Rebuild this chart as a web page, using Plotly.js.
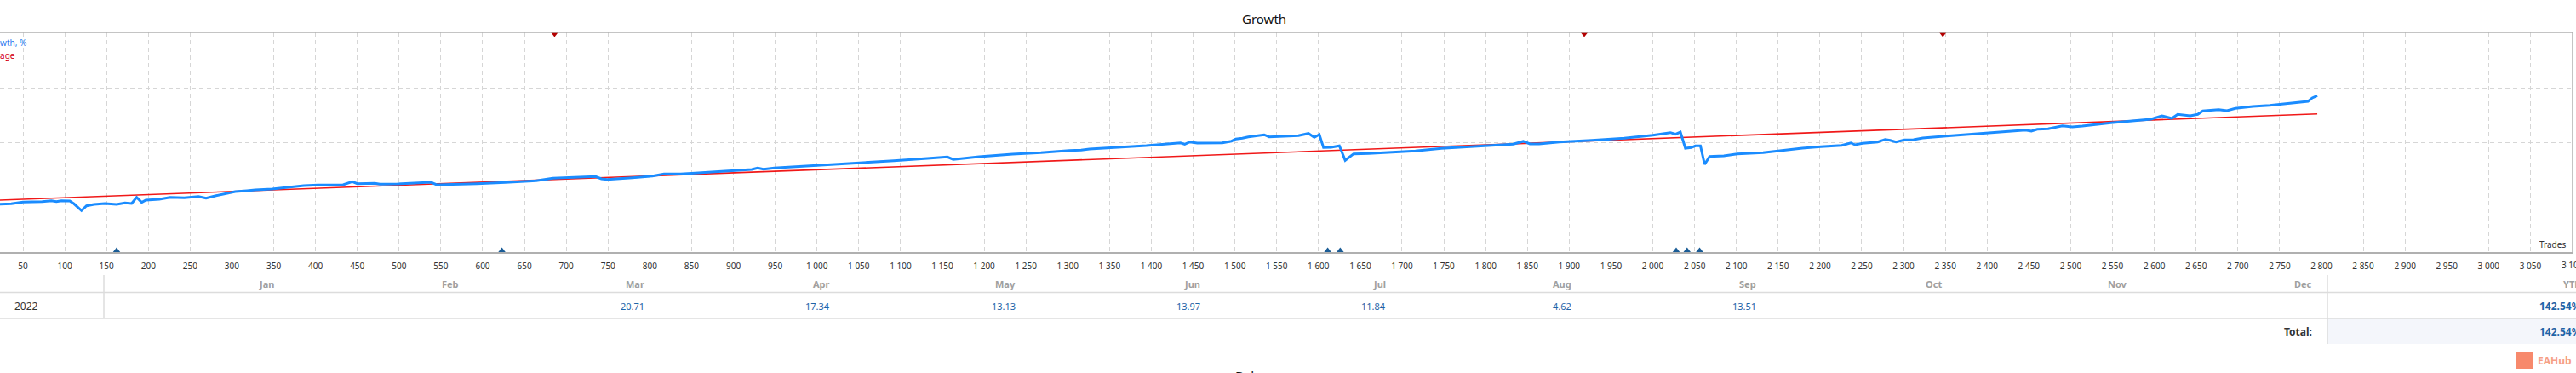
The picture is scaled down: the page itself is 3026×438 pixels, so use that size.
<!DOCTYPE html>
<html>
<head>
<meta charset="utf-8">
<script src="https://cdn.plot.ly/plotly-3.0.1.min.js"></script>
<style>
  html, body { margin: 0; padding: 0; background: #fff; }
  #chart { width: 3026px; height: 438px; }
</style>
</head>
<body>
<div id="chart"></div>
<script>
// growth curve, %, x = trade number
var growthTrades = [10, 22.5, 36, 50, 63, 73, 84, 90, 96, 106, 111, 120, 126, 135, 148, 162, 172, 180, 186, 192, 197, 213, 226, 243, 260, 269, 280, 294, 304, 318, 328, 348, 372, 386, 403, 433, 444, 450, 471, 477, 498, 518, 538, 545, 566, 593, 627, 664, 684, 701, 735, 742, 749, 779, 803, 817, 837, 854, 888, 922, 929, 936, 949, 990, 1024, 1065, 1092, 1132, 1156, 1163, 1194, 1234, 1268, 1302, 1316, 1326, 1350, 1394, 1435, 1440, 1446, 1455, 1485, 1496, 1501, 1509, 1516, 1535, 1541, 1560, 1576, 1588, 1595, 1601, 1606, 1615, 1625, 1632, 1642, 1660, 1693, 1716, 1747, 1794, 1833, 1845, 1853, 1864, 1888, 1927, 1950, 1966, 2000, 2021, 2027, 2033, 2039, 2046, 2051, 2057, 2062, 2068, 2085, 2101, 2132, 2151, 2179, 2201, 2226, 2237, 2242, 2251, 2269, 2278, 2284, 2291, 2301, 2312, 2323, 2351, 2374, 2401, 2429, 2446, 2453, 2460, 2473, 2490, 2502, 2514, 2548, 2582, 2596, 2609, 2621, 2628, 2643, 2652, 2658, 2677, 2687, 2697, 2718, 2738, 2765, 2784, 2789, 2795]
var growthValues = [-9.5, -9.1, -8.3, -5.9, -5.9, -5.2, -4.0, -5.2, -4.0, -4.4, -8.3, -17.8, -11.2, -9.1, -8.0, -9.1, -7.1, -8.0, 0.7, -6.4, -3.2, -2.0, 0.7, 0, 1.9, -0.5, 2.7, 6.7, 8.7, 9.9, 11.0, 12.2, 15.4, 17.0, 17.8, 18.2, 22.6, 19.7, 20.2, 19.0, 19.4, 20.9, 21.7, 18.2, 18.5, 19.7, 21.4, 23.8, 27.3, 28.0, 29.7, 26.5, 25.7, 28.0, 30.4, 33.3, 33.3, 34.4, 37.2, 39.6, 41.6, 39.9, 41.6, 44.3, 46.7, 49.4, 51.8, 55.0, 57.0, 53.5, 57.4, 60.9, 63.0, 66.0, 66.5, 68.1, 69.6, 72.8, 76.7, 74.8, 77.9, 76.4, 76.7, 79.1, 82.0, 83.1, 85.0, 88.0, 85.0, 85.9, 86.7, 89.8, 84.3, 88.3, 70.1, 70.4, 72.5, 52.3, 61.3, 61.8, 64.1, 65.3, 68.9, 72.0, 74.8, 78.8, 75.2, 75.2, 77.9, 80.3, 82.0, 83.1, 87.4, 91.0, 88.8, 91.8, 69.2, 70.1, 72.5, 72.5, 46.7, 57.7, 58.6, 61.3, 63.0, 65.7, 69.2, 71.3, 73.2, 76.7, 74.0, 76.0, 77.9, 81.5, 80.3, 77.9, 80.8, 81.1, 83.5, 86.2, 88.3, 90.6, 93.4, 94.5, 93.0, 95.7, 96.2, 100.5, 98.9, 100.1, 104.5, 107.6, 109.6, 114.4, 110.8, 116.4, 114.4, 116.4, 121.2, 123.1, 121.5, 124.7, 127.5, 129.0, 132.2, 134.6, 139.4, 142.54]

// straight average line
var averageTrades = [0, 2795]
var averageValues = [-4.2, 117.1]

// deposit / withdrawal marks
var depositTrades = [162, 623, 1611, 1626, 2028, 2041, 2056]
var withdrawTrades = [686, 1918, 2347]

// monthly table
var months = ['Jan', 'Feb', 'Mar', 'Apr', 'May', 'Jun', 'Jul', 'Aug', 'Sep', 'Oct', 'Nov', 'Dec']
var monthValues = [null, null, 20.71, 17.34, 13.13, 13.97, 11.84, 4.62, 13.51, null, null, null]
var tableYear = '2022'
var ytdValue = 142.54
var totalValue = 142.54

var W = 3026, H = 438
var M = { l: 0, r: 4, t: 38, b: 142 }
var plotW = W - M.l - M.r
var plotH = H - M.t - M.b
var xMin = 22.5, xMax = 3100.5
var yMin = -75.7, yMax = 230.8

function px2x(x) { return (x - M.l) / plotW }
function px2y(y) { return (H - M.b - y) / plotH }

var font = 'Noto Sans, DejaVu Sans, sans-serif'

var traces = [
    {
        x: averageTrades, y: averageValues, type: 'scatter', mode: 'lines',
        line: { color: '#f01818', width: 1.6 }, hoverinfo: 'skip'
    },
    {
        x: growthTrades, y: growthValues, type: 'scatter', mode: 'lines',
        line: { color: '#1a8cff', width: 3 }, hoverinfo: 'skip'
    },
    {
        x: depositTrades, y: depositTrades.map(() => yMin), type: 'scatter', mode: 'markers',
        marker: { symbol: 'triangle-up', size: 11, color: '#1a5c96' }, cliponaxis: true
    },
    {
        x: withdrawTrades, y: withdrawTrades.map(() => yMax), type: 'scatter', mode: 'markers',
        marker: { symbol: 'triangle-down', size: 11, color: '#b40000' }, cliponaxis: true
    }
]

var annotations = []
function label(text, xpx, ypx, anchor, size, color, bold, yanchor) {
    annotations.push({
        text: bold ? '<b>' + text + '</b>' : text,
        xref: 'paper', yref: 'paper', x: px2x(xpx), y: px2y(ypx),
        xanchor: anchor, yanchor: yanchor || 'middle', showarrow: false,
        font: { family: font, size: size, color: color }
    })
}

label('Growth', 1485, 22, 'center', 15, '#111', false)
label('Growth, %', 33, 50, 'right', 10, '#2b7cf0', false)
label('Average', 20, 65, 'right', 10, '#d4001a', false)
label('Trades', 3016, 287, 'right', 10, '#333', false)
// last tick label, half outside the page like in the original
var lastTick = 3100
annotations.push({
    text: '3 100', xref: 'x', yref: 'paper', x: lastTick, y: px2y(311),
    xanchor: 'center', yanchor: 'middle', showarrow: false,
    font: { family: font, size: 10, color: '#333' }
})

// table
var colStart = 122, colW = 217.7, colEnd = 2734
months.forEach(function (m, i) {
    var right = colStart + colW * (i + 1) - 16
    label(m, right, 333, 'right', 11, '#a0a0a0', true)
    if (monthValues[i] !== null) {
        label(monthValues[i].toFixed(2), right, 359, 'right', 11, '#1f64a8', false)
    }
})
label('YTD', 3034, 333, 'right', 11, '#a0a0a0', true)
label(tableYear, 15, 359, 'left', 12, '#333', false)
label(ytdValue.toFixed(2) + '%', 3034, 359, 'right', 12, '#1f64a8', true)
label('Total:', 2718, 389, 'right', 12, '#333', true)
label(totalValue.toFixed(2) + '%', 3034, 389, 'right', 12, '#1f64a8', true)
label('EAHub', 2979, 423, 'left', 12, '#f6a085', true)
label('Balance', 1478, 429, 'center', 15, '#111', false, 'top')

function hline(ypx, x0, x1, color) {
    return { type: 'line', xref: 'paper', yref: 'paper', x0: px2x(x0), x1: px2x(x1), y0: px2y(ypx), y1: px2y(ypx), line: { color: color, width: 1.5 } }
}
function vline(xpx, y0, y1, color) {
    return { type: 'line', xref: 'paper', yref: 'paper', x0: px2x(xpx), x1: px2x(xpx), y0: px2y(y0), y1: px2y(y1), line: { color: color, width: 1.5 } }
}

var shapes = [
    { type: 'rect', xref: 'paper', yref: 'paper', x0: px2x(colEnd), x1: px2x(W + 2), y0: px2y(374), y1: px2y(404), fillcolor: '#f4f6fb', line: { width: 0 }, layer: 'below' },
    { type: 'rect', xref: 'paper', yref: 'paper', x0: px2x(2955), x1: px2x(2975), y0: px2y(413), y1: px2y(433), fillcolor: '#f7896c', line: { width: 0 } },
    hline(38, 0, 3022, '#b0b0b0'),
    vline(3022, 38, 296, '#b0b0b0'),
    hline(343.5, 0, W, '#dcdcdc'),
    hline(374, 0, W, '#dcdcdc'),
    vline(colStart, 323, 374, '#dcdcdc'),
    vline(colEnd, 323, 404, '#dcdcdc')
]

var layout = {
    width: W, height: H,
    margin: M,
    paper_bgcolor: '#fff', plot_bgcolor: '#fff',
    showlegend: false,
    separators: '. ',
    font: { family: font, size: 10, color: '#333' },
    xaxis: {
        range: [xMin, xMax], tick0: 0, dtick: 50, tickformat: ',d',
        showgrid: true, gridcolor: '#d6d6d6', griddash: '5px,4px', gridwidth: 1,
        showline: true, linecolor: '#b0b0b0', linewidth: 1.5,
        zeroline: false, ticks: '', ticklabelstandoff: 6,
        tickfont: { family: font, size: 10, color: '#333' }
    },
    yaxis: {
        range: [yMin, yMax], tick0: 0, dtick: 76.6,
        showgrid: true, gridcolor: '#d6d6d6', griddash: '5px,4px', gridwidth: 1,
        showticklabels: false, zeroline: false, showline: false, ticks: ''
    },
    annotations: annotations,
    shapes: shapes
}

Plotly.newPlot('chart', traces, layout, { displayModeBar: false, staticPlot: true })
</script>
</body>
</html>
